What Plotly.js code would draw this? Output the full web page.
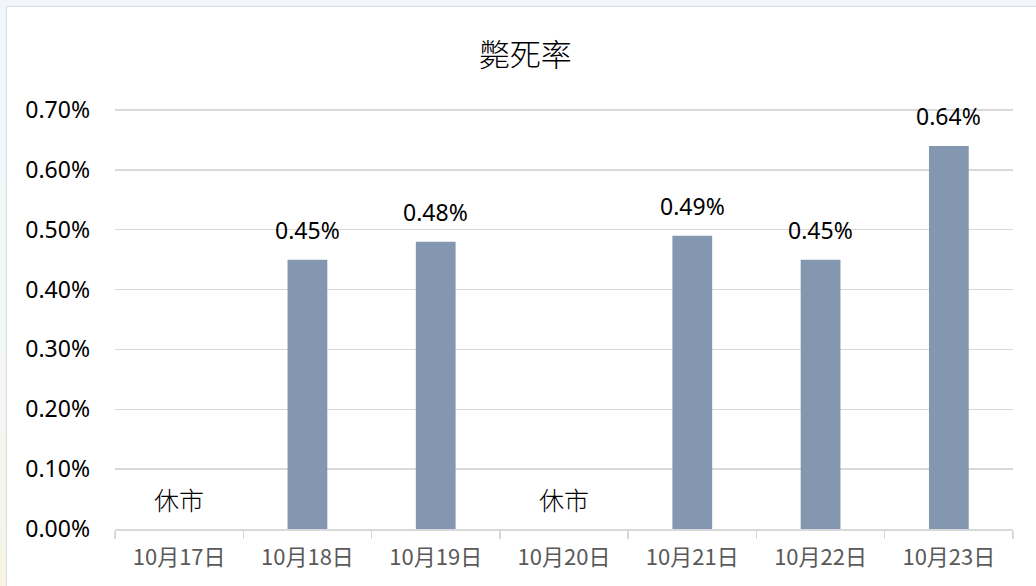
<!DOCTYPE html>
<html>
<head>
<meta charset="utf-8">
<script src="https://cdn.plot.ly/plotly-3.0.1.min.js"></script>
<style>
  html, body { margin:0; padding:0; width:1036px; height:586px; overflow:hidden;
    background: linear-gradient(to bottom, #f2f6fa 0%, #f3f6f6 60%, #f8f5e6 100%); }
  #frame { position:absolute; left:6px; top:6px; width:1060px; height:620px;
    background:#ffffff; border:1.5px solid #d9dde0; }
  #chart { position:absolute; left:0; top:0; width:1036px; height:586px; }
</style>
</head>
<body>
<div id="frame"></div>
<div id="chart"></div>
<script>
const categories = ['10月17日','10月18日','10月19日','10月20日','10月21日','10月22日','10月23日'];
const mortality = [null, 0.0045, 0.0048, null, 0.0049, 0.0045, 0.0064];
const closedDays = ['10月17日','10月20日'];
const closedLabel = '休市';
const yTicks = [0, 0.001, 0.002, 0.003, 0.004, 0.005, 0.006, 0.007];

const numFont = 'Noto Sans, Liberation Sans, sans-serif';
const cjkFont = 'Noto Sans CJK TC, Noto Sans CJK SC, sans-serif';

const annotations = [];
categories.forEach((c, i) => {
  if (mortality[i] !== null) {
    annotations.push({
      x: c, y: mortality[i], xref: 'x', yref: 'y',
      text: (mortality[i] * 100).toFixed(2) + '%',
      showarrow: false, yanchor: 'bottom', yshift: 12,
      font: {family: numFont, size: 23, color: '#000000'}
    });
  }
});
closedDays.forEach(c => {
  annotations.push({
    x: c, y: 0.0005, xref: 'x', yref: 'y', text: closedLabel,
    showarrow: false, yanchor: 'middle',
    font: {family: cjkFont, size: 25, color: '#000000', weight: 300}
  });
});

const trace = {
  type: 'bar', x: categories, y: mortality,
  marker: {color: '#8497b0'},
  hoverinfo: 'x+y'
};

const layout = {
  width: 1036, height: 586,
  paper_bgcolor: 'rgba(0,0,0,0)', plot_bgcolor: 'rgba(0,0,0,0)',
  margin: {l: 115, r: 23, t: 107, b: 57},
  bargap: 0.69,
  showlegend: false,
  title: {
    text: '斃死率', x: 0.507, xref: 'container', xanchor: 'center',
    y: 0.906, yref: 'container', yanchor: 'middle',
    font: {family: cjkFont, size: 31, color: '#000000', weight: 300}
  },
  xaxis: {
    type: 'category', tickson: 'boundaries', ticks: 'outside', ticklen: 8,
    tickcolor: '#d9d9d9', tickwidth: 1.5,
    showline: true, linecolor: '#d9d9d9', linewidth: 1.5,
    showgrid: false,
    ticklabelstandoff: 8,
    tickfont: {family: cjkFont, size: 22, color: '#595959'},
    fixedrange: true
  },
  yaxis: {
    range: [0, 0.00705], tickvals: yTicks, tickformat: '.2%',
    showgrid: true, gridcolor: '#d9d9d9', gridwidth: 1.5,
    zeroline: false, showline: false, ticks: '',
    ticklabelstandoff: 24,
    tickfont: {family: numFont, size: 23, color: '#000000'},
    fixedrange: true
  },
  annotations: annotations
};

Plotly.newPlot('chart', [trace], layout, {displayModeBar: false, staticPlot: true});
</script>
</body>
</html>
